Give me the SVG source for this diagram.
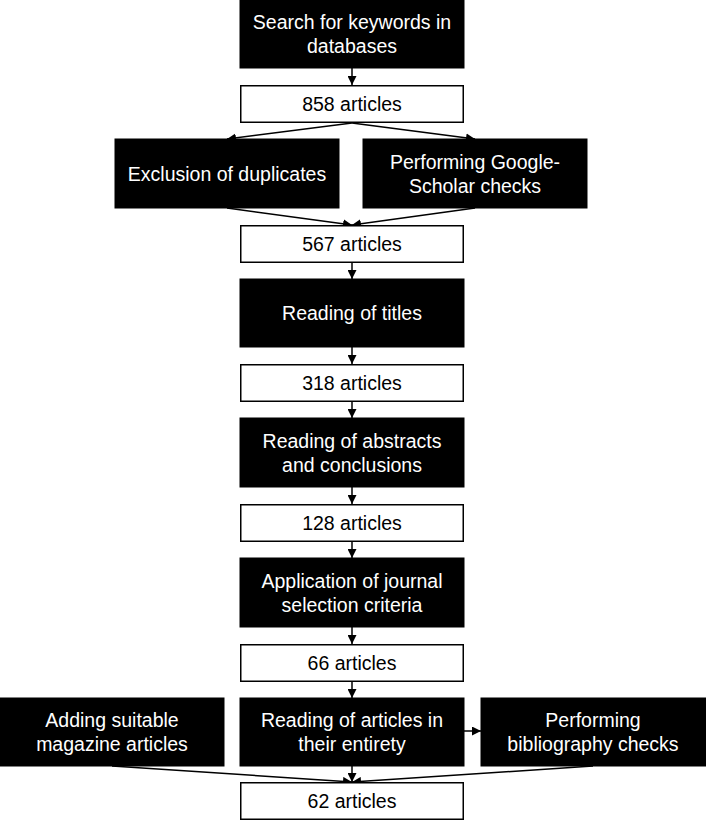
<svg xmlns="http://www.w3.org/2000/svg" width="706" height="821" viewBox="0 0 706 821">
<defs>
<marker id="ah" viewBox="0 0 10 10" refX="10" refY="5" markerWidth="9" markerHeight="9" markerUnits="userSpaceOnUse" orient="auto"><path d="M0,0 L10,5 L0,10 z" fill="#000"/></marker>
<style>
.b{fill:#000;stroke:#000;stroke-width:1}
.w{fill:#fff;stroke:#000;stroke-width:1.5}
.tb{font-family:"Liberation Sans",Arial,sans-serif;font-size:19.5px;fill:#fff;text-anchor:middle}
.tw{font-family:"Liberation Sans",Arial,sans-serif;font-size:19.5px;fill:#000;text-anchor:middle}
.c{stroke:#000;stroke-width:1.5;fill:none;marker-end:url(#ah)}
</style>
</defs>
<rect width="706" height="821" fill="#fff"/>
<g id="connectors">
<line class="c" x1="352" y1="68" x2="352" y2="85"/>
<line class="c" x1="352" y1="123" x2="227" y2="139"/>
<line class="c" x1="352" y1="123" x2="475" y2="139"/>
<line class="c" x1="227" y1="208" x2="352" y2="225"/>
<line class="c" x1="475" y1="208" x2="352" y2="225"/>
<line class="c" x1="352" y1="262" x2="352" y2="279"/>
<line class="c" x1="352" y1="347" x2="352" y2="364"/>
<line class="c" x1="352" y1="401" x2="352" y2="418"/>
<line class="c" x1="352" y1="487" x2="352" y2="504"/>
<line class="c" x1="352" y1="541" x2="352" y2="558"/>
<line class="c" x1="352" y1="627" x2="352" y2="644"/>
<line class="c" x1="352" y1="681" x2="352" y2="698"/>
<line class="c" x1="464" y1="731" x2="481" y2="731"/>
<line class="c" x1="352" y1="766" x2="352" y2="782"/>
<line class="c" x1="112" y1="766" x2="352" y2="782"/>
<line class="c" x1="593" y1="766" x2="352" y2="782"/>
</g>
<g id="n1"><rect class="b" x="240" y="0" width="224" height="68"/><text class="tb" x="352" y="29">Search for keywords in</text><text class="tb" x="352" y="53">databases</text></g>
<g id="n2"><rect class="w" x="240.75" y="85.75" width="222.5" height="36.5"/><text class="tw" x="352" y="111">858 articles</text></g>
<g id="n3"><rect class="b" x="115" y="139" width="224" height="69"/><text class="tb" x="227" y="180.5">Exclusion of duplicates</text></g>
<g id="n4"><rect class="b" x="363" y="139" width="224" height="69"/><text class="tb" x="475" y="169">Performing Google-</text><text class="tb" x="475" y="193">Scholar checks</text></g>
<g id="n5"><rect class="w" x="240.75" y="225.75" width="222.5" height="36.5"/><text class="tw" x="352" y="251">567 articles</text></g>
<g id="n6"><rect class="b" x="240" y="279" width="224" height="68"/><text class="tb" x="352" y="320">Reading of titles</text></g>
<g id="n7"><rect class="w" x="240.75" y="364.75" width="222.5" height="36.5"/><text class="tw" x="352" y="390">318 articles</text></g>
<g id="n8"><rect class="b" x="240" y="418" width="224" height="69"/><text class="tb" x="352" y="447.5">Reading of abstracts</text><text class="tb" x="352" y="471.5">and conclusions</text></g>
<g id="n9"><rect class="w" x="240.75" y="504.75" width="222.5" height="36.5"/><text class="tw" x="352" y="530">128 articles</text></g>
<g id="n10"><rect class="b" x="240" y="558" width="224" height="69"/><text class="tb" x="352" y="587.5">Application of journal</text><text class="tb" x="352" y="611.5">selection criteria</text></g>
<g id="n11"><rect class="w" x="240.75" y="644.75" width="222.5" height="36.5"/><text class="tw" x="352" y="670">66 articles</text></g>
<g id="n12"><rect class="b" x="0" y="698" width="224" height="68"/><text class="tb" x="112" y="727">Adding suitable</text><text class="tb" x="112" y="751">magazine articles</text></g>
<g id="n13"><rect class="b" x="240" y="698" width="224" height="68"/><text class="tb" x="352" y="727">Reading of articles in</text><text class="tb" x="352" y="751">their entirety</text></g>
<g id="n14"><rect class="b" x="481" y="698" width="225" height="68"/><text class="tb" x="593" y="727">Performing</text><text class="tb" x="593" y="751">bibliography checks</text></g>
<g id="n15"><rect class="w" x="240.75" y="782.75" width="222.5" height="36.5"/><text class="tw" x="352" y="808">62 articles</text></g>
</svg>
